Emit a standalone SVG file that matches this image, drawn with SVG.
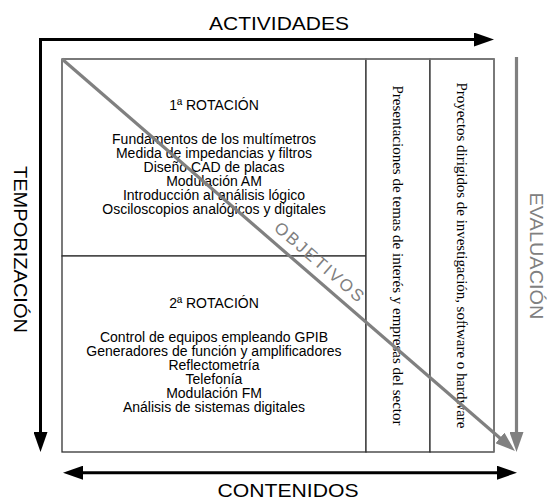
<svg xmlns="http://www.w3.org/2000/svg" width="549" height="500" viewBox="0 0 549 500">
<style>
.sans{font-family:"Liberation Sans",Arial,sans-serif}
.serif{font-family:"Liberation Serif","Times New Roman",serif}
.title{font-size:19px;fill:#000}
.gtxt{fill:#808080}
.item{font-size:14px;text-anchor:middle;fill:#000}
.vert{font-size:15px;text-anchor:middle;dominant-baseline:central;fill:#000}
.cell{fill:#fff;stroke:#333;stroke-width:1.3}
.frame{fill:none;stroke:#7a7a7a;stroke-width:1.5}
.blk{stroke:#000;stroke-width:3;fill:none}
.gry{stroke:#808080;stroke-width:3.2;fill:none}
</style>
<defs>
<marker id="ab" markerUnits="userSpaceOnUse" viewBox="0 0 20 14" markerWidth="20" markerHeight="14" refX="10" refY="7" orient="auto-start-reverse"><path d="M0,0 L20,7 L0,14 z" fill="#000"/></marker>
<marker id="ag" markerUnits="userSpaceOnUse" viewBox="0 0 20 14" markerWidth="20" markerHeight="14" refX="10" refY="7" orient="auto-start-reverse"><path d="M0,0 L20,7 L0,14 z" fill="#808080"/></marker>
</defs>
<rect width="549" height="500" fill="#fff"/>

<g id="rot1">
<rect class="cell" x="62" y="59" width="304" height="197"/>
<text class="sans item"><tspan x="214" y="110">1ª ROTACIÓN</tspan><tspan x="214" y="143.5">Fundamentos de los multímetros</tspan><tspan x="214" y="157.5">Medida de impedancias y filtros</tspan><tspan x="214" y="171.5">Diseño CAD de placas</tspan><tspan x="214" y="185.5">Modulación AM</tspan><tspan x="214" y="199.5">Introducción al análisis lógico</tspan><tspan x="214" y="213.5">Osciloscopios analógicos y digitales</tspan></text>
</g>
<g id="rot2">
<rect class="cell" x="62" y="256" width="304" height="196"/>
<text class="sans item"><tspan x="214" y="308">2ª ROTACIÓN</tspan><tspan x="214" y="341.5">Control de equipos empleando GPIB</tspan><tspan x="214" y="355.5">Generadores de función y amplificadores</tspan><tspan x="214" y="369.5">Reflectometría</tspan><tspan x="214" y="383.5">Telefonía</tspan><tspan x="214" y="397.5">Modulación FM</tspan><tspan x="214" y="411.5">Análisis de sistemas digitales</tspan></text>
</g>
<g id="presentaciones">
<rect class="cell" x="366" y="59" width="64" height="393"/>
<text class="serif vert" transform="translate(398 255.5) rotate(90)" textLength="340">Presentaciones de temas de interés y empresas del sector</text>
</g>
<g id="proyectos">
<rect class="cell" x="430" y="59" width="64" height="393"/>
<text class="serif vert" transform="translate(462 255.5) rotate(90)" textLength="346">Proyectos dirigidos de investigación, software o hardware</text>
</g>
<path class="frame" d="M62,59 H494 V452"/>

<g id="connectors">
<path class="blk" d="M40.5,442 V39.5 H484" marker-start="url(#ab)" marker-end="url(#ab)"/>
<path class="blk" d="M73,472.7 H507" marker-start="url(#ab)" marker-end="url(#ab)"/>
<path class="gry" d="M516.5,57 V442" marker-end="url(#ag)"/>
<path class="gry" d="M62,59 L507.4,444.5" marker-end="url(#ag)"/>
</g>

<g id="labels">
<text class="sans title" x="279" y="30" text-anchor="middle" textLength="140" lengthAdjust="spacingAndGlyphs">ACTIVIDADES</text>
<text class="sans title" x="288" y="497" text-anchor="middle" textLength="141" lengthAdjust="spacingAndGlyphs">CONTENIDOS</text>
<text class="sans title" transform="translate(20.5 249.5) rotate(90)" text-anchor="middle" dominant-baseline="central" textLength="167" lengthAdjust="spacingAndGlyphs">TEMPORIZACIÓN</text>
<text class="sans title gtxt" transform="translate(536 256) rotate(90)" text-anchor="middle" dominant-baseline="central" textLength="127" lengthAdjust="spacingAndGlyphs">EVALUACIÓN</text>
<text class="sans gtxt" font-size="17" transform="translate(319 262) rotate(40.87)" text-anchor="middle" dominant-baseline="central" textLength="112">OBJETIVOS</text>
</g>
</svg>
